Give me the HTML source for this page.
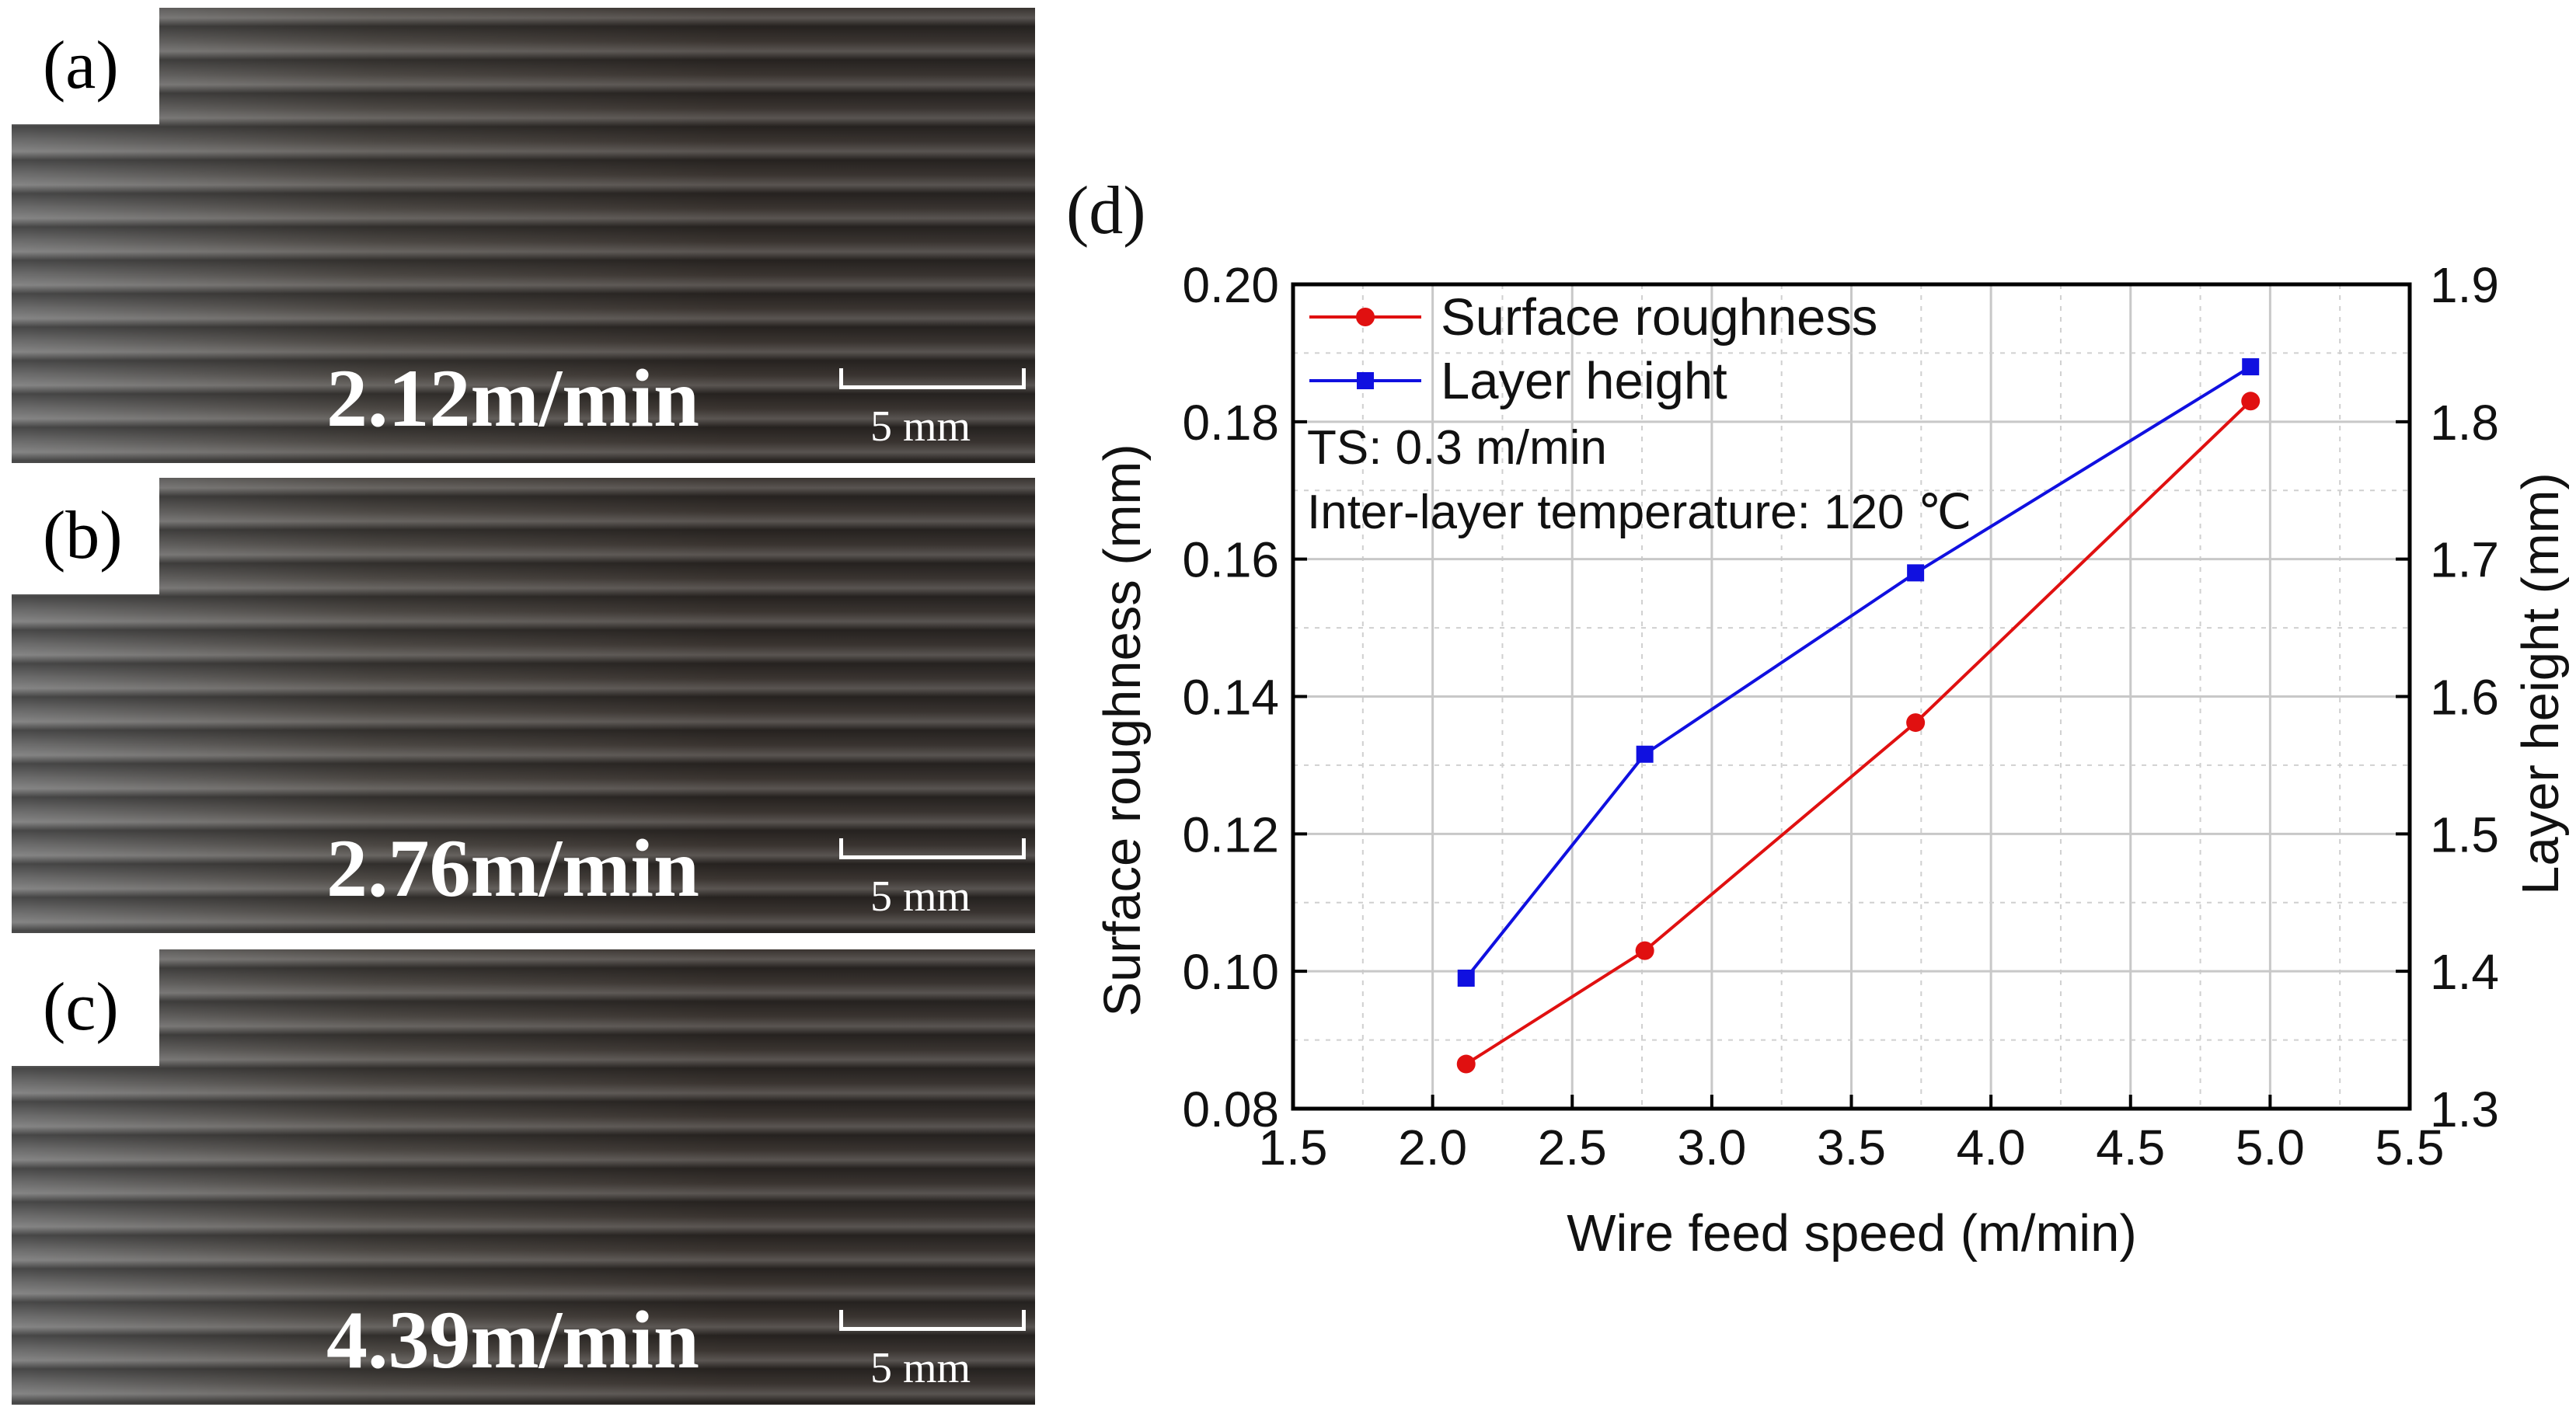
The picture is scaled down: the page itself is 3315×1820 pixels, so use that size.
<!DOCTYPE html>
<html><head><meta charset="utf-8"><style>
body{margin:0;width:3315px;height:1820px;background:#fff;overflow:hidden;position:relative;font-family:"Liberation Sans",sans-serif}
.photo{position:absolute;left:15px;width:1317px;height:586px;overflow:hidden;
background:repeating-linear-gradient(180deg,rgba(255,255,255,0) 0px,rgba(255,255,255,.16) 13px,rgba(0,0,0,.35) 24px,rgba(255,255,255,0) 43px),
linear-gradient(90deg,#6e6e6e 0%,#4c4844 35%,#3a3430 70%,#383330 100%)}
.lbl{position:absolute;left:0;top:0;width:190px;height:150px;background:#fff;font-family:"Liberation Serif",serif;font-size:88px;line-height:150px;padding-left:40px;box-sizing:border-box}
.spd{position:absolute;left:405px;bottom:22px;color:#fff;font-family:"Liberation Serif",serif;font-weight:bold;font-size:106px}
.bar{position:absolute;left:1065px;bottom:95px;width:230px;height:22px;border:5px solid #fff;border-top:none}
.mm{position:absolute;left:1105px;bottom:15px;color:#fff;font-family:"Liberation Serif",serif;font-size:56px}
</style></head><body>
<div class="photo" style="top:10px"><div class="lbl">(a)</div><div class="spd">2.12m/min</div><div class="bar"></div><div class="mm">5 mm</div></div>
<div class="photo" style="top:615px"><div class="lbl">(b)</div><div class="spd">2.76m/min</div><div class="bar"></div><div class="mm">5 mm</div></div>
<div class="photo" style="top:1222px"><div class="lbl">(c)</div><div class="spd">4.39m/min</div><div class="bar"></div><div class="mm">5 mm</div></div>
<svg id="chart" width="3315" height="1820" style="position:absolute;left:0;top:0"></svg>
<script>
const xTicks=[1.5,2.0,2.5,3.0,3.5,4.0,4.5,5.0,5.5];
const yLeftTicks=[0.08,0.10,0.12,0.14,0.16,0.18,0.20];
const yRightTicks=[1.3,1.4,1.5,1.6,1.7,1.8,1.9];
const speeds=[2.12,2.76,3.73,4.93];
const roughness=[0.0865,0.103,0.1362,0.183];
const layerHeight=[1.395,1.558,1.69,1.84];
const L=1664,R=3101,T=366,B=1427;
const X=v=>L+(v-1.5)/4*(R-L);
const YL=v=>B-(v-0.08)/0.12*(B-T);
const YR=v=>B-(v-1.3)/0.6*(B-T);
const svg=document.getElementById('chart');const NS='http://www.w3.org/2000/svg';
function mk(t,a,txt){const e=document.createElementNS(NS,t);for(const k in a)e.setAttribute(k,a[k]);if(txt!==undefined)e.textContent=txt;svg.appendChild(e);return e;}
for(let i=0;i<xTicks.length-1;i++){const v=xTicks[i];if(i>0){const g=mk('line',{x1:X(v),x2:X(v),y1:T,y2:B,stroke:'#c8c8c8','stroke-width':3});}
const m=mk('line',{x1:X(v+0.25),x2:X(v+0.25),y1:T,y2:B,stroke:'#d0d0d0','stroke-width':2,'stroke-dasharray':'6 8'});}
for(let i=0;i<yLeftTicks.length-1;i++){const v=yLeftTicks[i];if(i>0){const g=mk('line',{x1:L,x2:R,y1:YL(v),y2:YL(v),stroke:'#c8c8c8','stroke-width':3});}
const m=mk('line',{x1:L,x2:R,y1:YL(v+0.01),y2:YL(v+0.01),stroke:'#d0d0d0','stroke-width':2,'stroke-dasharray':'6 8'});}
const fr=mk('rect',{x:L,y:T,width:R-L,height:B-T,fill:'none',stroke:'#000','stroke-width':5});

xTicks.forEach(v=>{mk('line',{x1:X(v),x2:X(v),y1:B,y2:B-18,stroke:'#000','stroke-width':4});
const t=mk('text',{x:X(v),y:B+72,'font-size':64,'text-anchor':'middle',fill:'#111'},v.toFixed(1));});
yLeftTicks.forEach(v=>{mk('line',{x1:L,x2:L+18,y1:YL(v),y2:YL(v),stroke:'#000','stroke-width':4});
const t=mk('text',{x:L-18,y:YL(v)+23,'font-size':64,'text-anchor':'end',fill:'#111'},v.toFixed(2));});
yRightTicks.forEach(v=>{mk('line',{x1:R,x2:R-18,y1:YR(v),y2:YR(v),stroke:'#000','stroke-width':4});
const t=mk('text',{x:R+26,y:YR(v)+23,'font-size':64,'text-anchor':'start',fill:'#111'},v.toFixed(1));});
let t;
t=mk('text',{x:2383,y:1610,'font-size':67,'text-anchor':'middle',fill:'#111'},'Wire feed speed (m/min)');
t=mk('text',{x:0,y:0,'font-size':67,'text-anchor':'middle',fill:'#111',transform:'translate(1467,940) rotate(-90)'},'Surface roughness (mm)');
t=mk('text',{x:0,y:0,'font-size':67,'text-anchor':'middle',fill:'#111',transform:'translate(3292,880) rotate(-90)'},'Layer height (mm)');
t=mk('text',{x:1372,y:300,'font-size':88,'font-family':'Liberation Serif, serif',fill:'#111'},'(d)');
const rp=mk('polyline',{points:speeds.map((s,i)=>X(s)+','+YL(roughness[i])).join(' '),fill:'none',stroke:'#e01010','stroke-width':4});

const bp=mk('polyline',{points:speeds.map((s,i)=>X(s)+','+YR(layerHeight[i])).join(' '),fill:'none',stroke:'#1010e0','stroke-width':4});

speeds.forEach((s,i)=>{const c=mk('circle',{cx:X(s),cy:YL(roughness[i]),r:12,fill:'#e01010'});
const q=mk('rect',{x:X(s)-11,y:YR(layerHeight[i])-11,width:22,height:22,fill:'#1010e0'});});
mk('line',{x1:1685,x2:1829,y1:408,y2:408,stroke:'#e01010','stroke-width':4});mk('circle',{cx:1757,cy:408,r:12,fill:'#e01010'});
t=mk('text',{x:1854,y:431,'font-size':67,fill:'#111'},'Surface roughness');
mk('line',{x1:1685,x2:1829,y1:490,y2:490,stroke:'#1010e0','stroke-width':4});mk('rect',{x:1746,y:479,width:22,height:22,fill:'#1010e0'});
t=mk('text',{x:1854,y:513,'font-size':67,fill:'#111'},'Layer height');
t=mk('text',{x:1682,y:597,'font-size':62,fill:'#111'},'TS: 0.3 m/min');
t=mk('text',{x:1682,y:680,'font-size':62,fill:'#111'},'Inter-layer temperature: 120 ℃');
</script>
</body></html>
